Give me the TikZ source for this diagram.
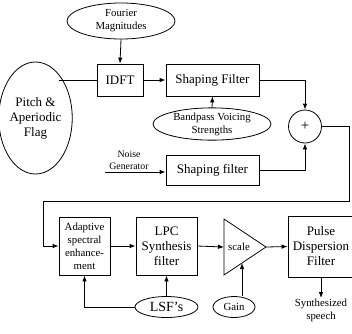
\documentclass[tikz,border=0pt]{standalone}
\usepackage{fontspec}
\setmainfont{Liberation Serif}
\usetikzlibrary{shapes.geometric,arrows.meta}
\begin{document}
\begin{tikzpicture}[x=1pt,y=-1pt,
  line width=0.8pt,
  big/.style={font=\fontsize{13}{15}\selectfont, align=center},
  sml/.style={font=\fontsize{10.8}{13}\selectfont, align=center},
  blk/.style={draw, rectangle, inner sep=0pt},
  ell/.style={draw, ellipse, inner sep=0pt},
  arr/.style={-{Latex[length=6pt,width=4.5pt]}}]
\useasboundingbox (0,0) rectangle (352,333);

\node[ell, sml, minimum width=108pt, minimum height=36pt] (fourier) at (121,21) {Fourier\\Magnitudes};
\node[blk, big, minimum width=46pt, minimum height=32pt] (idft) at (120,80) {IDFT};
\node[ell, big, minimum width=57pt, minimum height=112pt] (pitch) at (35.5,118) {Pitch \&\\Aperiodic\\Flag};
\node[blk, big, minimum width=93pt, minimum height=32pt] (shape1) at (212.5,80) {Shaping Filter};
\node[ell, sml, minimum width=118pt, minimum height=32pt] (bvs) at (212,124) {Bandpass Voicing\\Strengths};
\node[draw, circle, minimum size=33pt, inner sep=0pt, font=\fontsize{15}{15}\selectfont] (sum) at (305,126.5) {+};
\node[blk, big, minimum width=93pt, minimum height=30pt] (shape2) at (212.5,170.5) {Shaping filter};
\coordinate (noisestart) at (105,172);
\node[align=center, font=\fontsize{9.8}{12.5}\selectfont, anchor=south, inner sep=1pt] (noise) at (129,171) {Noise\\Generator};

\node[blk, sml, minimum width=51pt, minimum height=58pt] (adaptive) at (84.5,246) {Adaptive\\spectral\\enhance-\\ment};
\node[blk, big, minimum width=61pt, minimum height=58pt] (lpc) at (166.5,246) {LPC\\Synthesis\\filter};
\draw (224,219) -- (266,247) -- (224,275) -- cycle;
\coordinate (triL) at (224,247);
\coordinate (triT) at (266,247);
\coordinate (triB) at (242,263);
\node[sml] (scale) at (239,247) {scale};
\node[blk, big, minimum width=66pt, minimum height=61pt] (pulse) at (321,246.5) {Pulse\\Dispersion\\Filter};
\node[ell, font=\fontsize{14}{15}\selectfont, minimum width=63pt, minimum height=21pt] (lsf) at (166.5,307) {LSF’s};
\node[ell, sml, minimum width=42pt, minimum height=21pt] (gain) at (234,307) {Gain};
\node[sml, anchor=north, inner sep=1pt] (synth) at (321,298) {Synthesized\\speech};

\coordinate (c1) at (349,201);
\coordinate (c2) at (43,201);

\draw[arr] (fourier.south) -- (idft.north);
\draw (idft.west) -- (pitch.61.6 |- idft.west);
\draw[arr] (idft.east) -- (shape1.west);
\draw[arr] (shape1.east) -| (sum.north);
\draw[arr] (bvs.north) -- (shape1.south);
\draw[arr] (noisestart) -- (shape2.west |- noisestart);
\draw[arr] (shape2.east) -| (sum.south);
\draw[arr] (sum.east) -| (c1) -- (c2) |- (adaptive.west);
\draw[arr] (adaptive.east) -- (lpc.west);
\draw[arr] (lpc.east) -- (triL);
\draw[arr] (triT) -- (pulse.west);
\draw[arr] (pulse.south) -- (synth.north);
\draw[arr] (lsf.north) -- (lpc.south);
\draw[arr] (lsf.west) -| (adaptive.south);
\draw[arr] (gain.north -| triB) -- (triB);
\end{tikzpicture}
\end{document}
